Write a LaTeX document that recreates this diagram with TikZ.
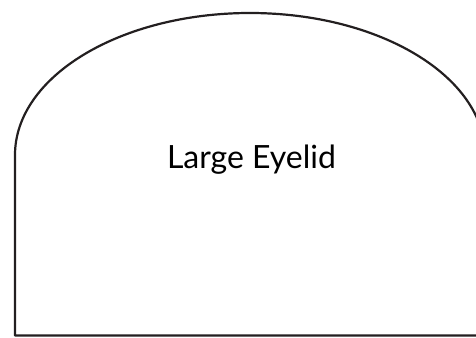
\documentclass[tikz,border=0pt]{standalone}
\usepackage{fontspec}
\setmainfont{Lato}
\definecolor{ink}{HTML}{231F20}
\tikzset{
  lidshape/.style={draw=ink, line width=2.2pt, line join=round},
  lidlabel/.style={text=black, font=\fontsize{32}{38}\selectfont, inner sep=0pt}
}
\begin{document}
\begin{tikzpicture}[x=1pt,y=-1pt]
  \useasboundingbox (0,0) rectangle (476,337);
  \clip (0,0) rectangle (476,337);
  \path[lidshape] (485,155) arc[start angle=0, end angle=180, x radius=235pt, y radius=142pt]
    -- (15,335.5) -- (485,335.5) -- cycle;
  \node[lidlabel, anchor=base] (lbl) at (251.5,168.5) {Large Eyelid};
\end{tikzpicture}
\end{document}
